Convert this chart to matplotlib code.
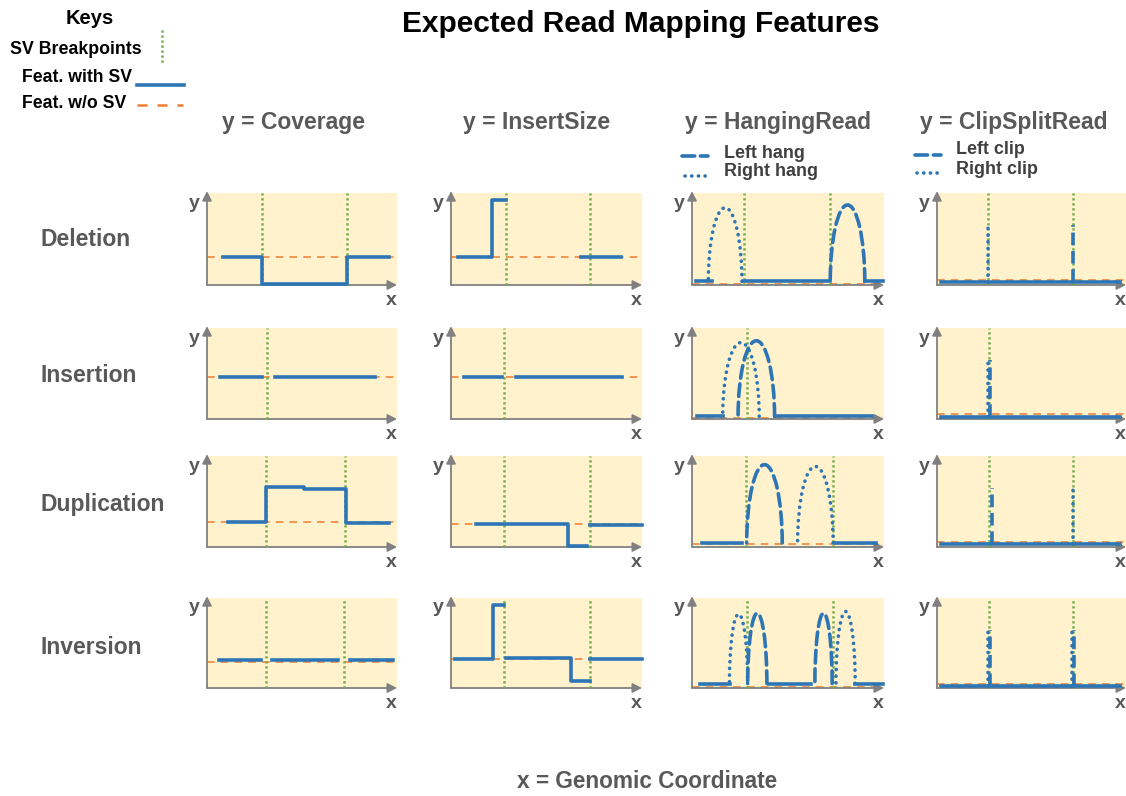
import matplotlib
matplotlib.use('Agg')
import matplotlib.pyplot as plt
from matplotlib.patches import Arc

plt.rcParams['font.family'] = ['Liberation Sans', 'DejaVu Sans']
plt.rcParams['font.weight'] = 'bold'

BLUE = '#2e75b6'
ORANGE = '#ed7d31'
GREEN = '#70ad47'
BG = '#fff2cc'
GRAY = '#808080'
TXT = '#595959'

# --- data (panel coordinates 0..10 on both axes) ---
sv_types = ['Deletion', 'Insertion', 'Duplication', 'Inversion']
feature_names = ['y = Coverage', 'y = InsertSize', 'y = HangingRead', 'y = ClipSplitRead']

# Coverage
cov_bps = [[2.9, 7.35], [3.15], [3.1, 7.25], [3.1, 7.2]]
cov_normal = [3.0, 4.6, 2.8, 2.9]
cov_lines = [
    [([0.85, 2.9, 2.9, 7.35, 7.35, 9.6], [3.0, 3.0, 0.15, 0.15, 3.0, 3.0])],
    [([0.7, 2.9], [4.6, 4.6]), ([3.6, 8.85], [4.6, 4.6])],
    [([1.1, 3.1, 3.1, 5.1, 5.1, 7.3, 7.3, 9.6], [2.8, 2.8, 6.6, 6.6, 6.4, 6.4, 2.6, 2.6])],
    [([0.65, 2.85], [3.1, 3.1]), ([3.4, 6.9], [3.1, 3.1]), ([7.5, 9.8], [3.1, 3.1])],
]

# InsertSize
size_bps = [[2.9, 7.3], [2.8], [2.8, 7.3], [2.8, 7.3]]
size_normal = [3.0, 4.6, 2.5, 3.2]
size_lines = [
    [([0.35, 2.15, 2.15, 2.9], [3.0, 3.0, 9.2, 9.2]), ([6.8, 8.9], [3.0, 3.0])],
    [([0.7, 2.65], [4.6, 4.6]), ([3.4, 8.95], [4.6, 4.6])],
    [([1.3, 6.1, 6.1, 7.1], [2.5, 2.5, 0.15, 0.15]), ([7.3, 10.0], [2.4, 2.4])],
    [([0.2, 2.2, 2.2, 2.8], [3.2, 3.2, 9.2, 9.2]), ([2.9, 6.3, 6.3, 7.3], [3.3, 3.3, 0.8, 0.8]),
     ([7.3, 10.0], [3.2, 3.2])],
]

# HangingRead
hang_bps = [[2.7, 7.2], [2.85], [2.8, 7.35], [2.85, 7.35]]
hang_normal = [0.15, 0.15, 0.3, 0.1]
hang_base = [0.4, 0.3, 0.45, 0.5]
hang_lines = [
    [[0.2, 1.05], [2.7, 7.2], [9.0, 9.95]],
    [[0.25, 1.6], [4.3, 9.4]],
    [[0.5, 2.6], [7.5, 9.6]],
    [[0.4, 2.0], [4.0, 6.2], [8.5, 9.95]],
]
# (start, end, height)
hang_left = [[(7.2, 9.0, 8.3)], [(2.4, 4.3, 8.3)], [(2.85, 4.7, 8.6)], [(2.9, 3.9, 7.8), (6.4, 7.3, 7.8)]]
hang_right = [[(0.85, 2.6, 8.0)], [(1.6, 3.5, 8.1)], [(5.5, 7.35, 8.4)], [(1.95, 2.9, 7.7), (7.5, 8.5, 8.0)]]

# ClipSplitRead
clip_bps = [[2.7, 7.2], [2.75], [2.75, 7.2], [2.75, 7.2]]
clip_normal = [0.5, 0.6, 0.6, 0.4]
clip_base = [0.3, 0.25, 0.35, 0.2]
clip_left = [[7.2], [2.8], [2.9], [2.8, 7.25]]
clip_right = [[2.7], [2.7], [7.2], [2.7, 7.15]]
clip_height = [6.5, 6.5, 6.5, 6.4]

# layout in pixels
col_left = [207, 451, 692, 937]
col_w = [190, 191, 192, 189]
row_top = [193, 328, 456, 598]
row_h = [92, 91, 91, 90]

W, H = 1126, 796
fig = plt.figure(figsize=(W / 100, H / 100), dpi=100)

ov = fig.add_axes([0, 0, 1, 1])
ov.set_xlim(0, W)
ov.set_ylim(H, 0)
ov.axis('off')

dash_ls = (0, (3.5, 1.6))
dot_ls = (0, (0.05, 1.8))


def setup_panel(ax):
    ax.set_facecolor(BG)
    ax.set_xlim(0, 10)
    ax.set_ylim(0, 10)
    for s in ax.spines.values():
        s.set_visible(False)
    ax.set_xticks([])
    ax.set_yticks([])
    ap = dict(arrowstyle='-|>,head_length=0.55,head_width=0.28', color=GRAY, lw=1.3, shrinkA=0, shrinkB=0)
    ax.annotate('', xy=(1.0, 0), xytext=(0, 0), xycoords='axes fraction', arrowprops=ap)
    ax.annotate('', xy=(0, 1.02), xytext=(0, 0), xycoords='axes fraction', arrowprops=ap)
    ax.text(-0.065, 0.89, 'y', transform=ax.transAxes, ha='center', va='center', fontsize=14, color=TXT)
    ax.text(0.97, -0.17, 'x', transform=ax.transAxes, ha='center', va='center', fontsize=14, color=TXT)


def draw_bps(ax, bps):
    for b in bps:
        ax.plot([b, b], [0, 10], color=GREEN, lw=1.8, ls=(0, (0.9, 1.1)), zorder=3, clip_on=False)


def draw_normal(ax, level):
    ax.plot([0, 10], [level, level], color=ORANGE, lw=1.1, ls=(0, (5, 4)), zorder=2, clip_on=False)


def draw_arc(ax, start, end, height, base, ls):
    a = Arc(((start + end) / 2, base), end - start, 2 * height, theta1=0, theta2=180,
            color=BLUE, lw=2.6, linestyle=ls, zorder=4)
    a.set_capstyle('round')
    ax.add_patch(a)


axes = [[None] * 4 for _ in range(4)]
for r in range(4):
    for c in range(4):
        ax = fig.add_axes([col_left[c] / W, 1 - (row_top[r] + row_h[r]) / H, col_w[c] / W, row_h[r] / H])
        setup_panel(ax)
        axes[r][c] = ax

for r in range(4):
    # coverage
    ax = axes[r][0]
    draw_normal(ax, cov_normal[r])
    draw_bps(ax, cov_bps[r])
    for xs, ys in cov_lines[r]:
        ax.plot(xs, ys, color=BLUE, lw=2.6, zorder=4, clip_on=False)
    # insert size
    ax = axes[r][1]
    draw_normal(ax, size_normal[r])
    draw_bps(ax, size_bps[r])
    for xs, ys in size_lines[r]:
        ax.plot(xs, ys, color=BLUE, lw=2.6, zorder=4, clip_on=False)
    # hanging reads
    ax = axes[r][2]
    draw_normal(ax, hang_normal[r])
    draw_bps(ax, hang_bps[r])
    for xs in hang_lines[r]:
        ax.plot(xs, [hang_base[r]] * 2, color=BLUE, lw=2.6, zorder=4, clip_on=False)
    for s, e, h in hang_left[r]:
        draw_arc(ax, s, e, h, hang_base[r], dash_ls)
    for s, e, h in hang_right[r]:
        draw_arc(ax, s, e, h, hang_base[r], dot_ls)
    # clip / split reads
    ax = axes[r][3]
    draw_normal(ax, clip_normal[r])
    draw_bps(ax, clip_bps[r])
    ax.plot([0.2, 9.7], [clip_base[r]] * 2, color=BLUE, lw=2.6, zorder=4, clip_on=False)
    for x in clip_left[r]:
        ax.plot([x, x], [clip_base[r], clip_height[r]], color=BLUE, lw=2.6, ls=dash_ls, zorder=4)
    for x in clip_right[r]:
        ax.plot([x, x], [clip_base[r], clip_height[r]], color=BLUE, lw=2.6, ls=dot_ls,
                solid_capstyle='round', dash_capstyle='round', zorder=4)

# texts
ov.text(641, 24, 'Expected Read Mapping Features', ha='center', va='center', fontsize=21.5, color='black')
ov.text(647, 782, 'x = Genomic Coordinate', ha='center', va='center', fontsize=16.3, color=TXT)
row_y = [240, 375, 504, 647]
for name, y in zip(sv_types, row_y):
    ov.text(41, y, name, ha='left', va='center', fontsize=16.5, color=TXT)
col_x = [294, 537, 778, 1014]
for name, x in zip(feature_names, col_x):
    ov.text(x, 123, name, ha='center', va='center', fontsize=16.5, color=TXT)

# keys
ov.text(90, 18, 'Keys', ha='center', va='center', fontsize=14.5, color='black')
ov.text(10, 49, 'SV Breakpoints', ha='left', va='center', fontsize=12.8, color='black')
ov.text(22, 77, 'Feat. with SV', ha='left', va='center', fontsize=12.7, color='black')
ov.text(22, 104, 'Feat. w/o SV', ha='left', va='center', fontsize=12.7, color='black')
ov.plot([162, 162], [30, 65], color=GREEN, lw=1.8, ls=(0, (0.9, 1.1)))
ov.plot([137, 184], [85, 85], color=BLUE, lw=2.6)
ov.plot([137, 183], [105, 105], color=ORANGE, lw=1.8, ls=(0, (4, 4)))

# hanging / clip legends
leg = [(682, 156, 724, 153, 'Left hang', dash_ls), (685, 176, 724, 172, 'Right hang', dot_ls),
       (915, 155, 956, 149, 'Left clip', dash_ls), (917, 173, 956, 169, 'Right clip', dot_ls)]
for lx, ly, tx, ty, label, ls in leg:
    ov.plot([lx, lx + 26], [ly, ly], color=BLUE, lw=2.6, ls=ls, dash_capstyle='round')
    ov.text(tx, ty, label, ha='left', va='center', fontsize=12.9, color='#404040')

fig.savefig('out.png', dpi=100)
